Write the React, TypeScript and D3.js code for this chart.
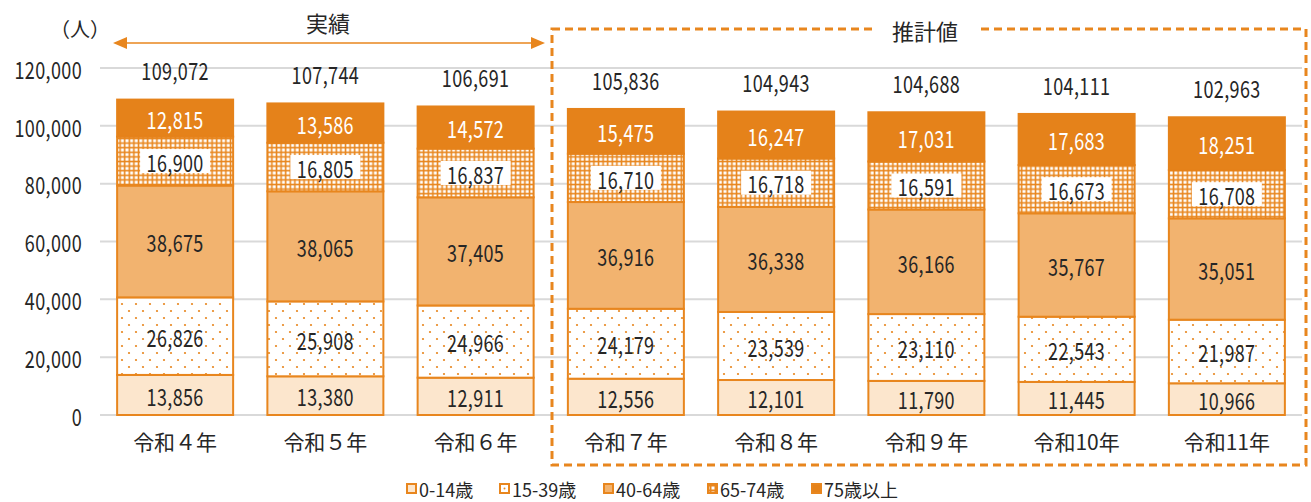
import React from "react";
import * as d3 from "d3";

const categories = ["令和４年", "令和５年", "令和６年", "令和７年", "令和８年", "令和９年", "令和10年", "令和11年"];
const age0to14 = [13856, 13380, 12911, 12556, 12101, 11790, 11445, 10966];
const age15to39 = [26826, 25908, 24966, 24179, 23539, 23110, 22543, 21987];
const age40to64 = [38675, 38065, 37405, 36916, 36338, 36166, 35767, 35051];
const age65to74 = [16900, 16805, 16837, 16710, 16718, 16591, 16673, 16708];
const age75plus = [12815, 13586, 14572, 15475, 16247, 17031, 17683, 18251];
const totals = [109072, 107744, 106691, 105836, 104943, 104688, 104111, 102963];
const yTicks = [0, 20000, 40000, 60000, 80000, 100000, 120000];
const seriesNames = ["0-14歳", "15-39歳", "40-64歳", "65-74歳", "75歳以上"];
const actualLabel = "実績";
const estimateLabel = "推計値";
const unitLabel = "（人）";

const W = 1311;
const H = 502;
const ORANGE = "#E8861E";
const DARK = "#E5821A";
const MID = "#F2B36F";
const LIGHT = "#FCE6CD";
const TXT = "#262626";
const FONT = "'Noto Sans CJK JP', 'Noto Sans', sans-serif";

type Seg = { key: number; values: number[]; fill: string; labelColor: string; labelBg?: boolean };

const series: Seg[] = [
  { key: 0, values: age0to14, fill: LIGHT, labelColor: TXT },
  { key: 1, values: age15to39, fill: "url(#dots)", labelColor: TXT },
  { key: 2, values: age40to64, fill: MID, labelColor: TXT },
  { key: 3, values: age65to74, fill: "url(#grid)", labelColor: TXT, labelBg: true },
  { key: 4, values: age75plus, fill: DARK, labelColor: "#ffffff" },
];

const fmt = d3.format(",");

function Num(props: { x: number; y: number; text: string; anchor?: string; size?: number; fill?: string; sx?: number }) {
  const { x, y, text, anchor = "middle", size = 24, fill = TXT, sx = 0.75 } = props;
  return (
    <g transform={`translate(${x},${y}) scale(${sx},1)`}>
      <text x={0} y={0} textAnchor={anchor as any} dominantBaseline="central" fontSize={size} fill={fill} fontFamily={FONT} letterSpacing={0.5}>
        {text}
      </text>
    </g>
  );
}

export default function App() {
  const x = d3.scaleBand<string>().domain(categories).range([100, 1302]).paddingInner(0.228).paddingOuter(0.114);
  const y = d3.scaleLinear().domain([0, 120000]).range([415, 68]);
  const bw = x.bandwidth();

  const bars = categories.map((c, i) => {
    let acc = 0;
    const segs = series.map((s) => {
      const v = s.values[i];
      const y0 = y(acc);
      const y1 = y(acc + v);
      acc += v;
      return { s, v, y0, y1 };
    });
    return { c, i, segs };
  });

  const legendX = [407, 500, 604, 708, 812];

  return (
    <svg width={W} height={H} style={{ position: "absolute", left: 0, top: 0, background: "#fff" }} fontFamily={FONT}>
      <defs>
        <pattern id="dots" patternUnits="userSpaceOnUse" width={14} height={14}>
          <rect width={14} height={14} fill="#fff" />
          <circle cx={3} cy={3} r={1.1} fill={ORANGE} />
          <circle cx={10} cy={10} r={1.1} fill={ORANGE} />
        </pattern>
        <pattern id="grid" patternUnits="userSpaceOnUse" width={4.6} height={4.6}>
          <rect width={4.6} height={4.6} fill={ORANGE} />
          <rect x={1.3} y={1.3} width={3.0} height={3.0} fill="#fff" />
        </pattern>
        <pattern id="gridLegend" patternUnits="userSpaceOnUse" width={5} height={5}>
          <rect width={5} height={5} fill={ORANGE} />
          <rect x={1.5} y={1.5} width={3} height={3} fill="#fff" />
        </pattern>
      </defs>
      <rect width={W} height={H} fill="#fff" />

      {yTicks.map((t) => (
        <line key={t} x1={100} x2={1302} y1={y(t)} y2={y(t)} stroke="#D9D9D9" strokeWidth={2} />
      ))}
      {yTicks.map((t) => (
        <Num key={"l" + t} x={82} y={y(t)} text={fmt(t)} anchor="end" />
      ))}
      <text x={80} y={28} textAnchor="middle" dominantBaseline="central" fontSize={20} fill={TXT}>
        {unitLabel}
      </text>

      {bars.map((b) => {
        const bx = x(b.c)!;
        return (
          <g key={b.c}>
            {b.segs.map(({ s, y0, y1 }) => (
              <rect
                key={s.key}
                x={bx}
                y={y1}
                width={bw}
                height={y0 - y1}
                fill={s.fill}
                stroke={s.key === 4 ? DARK : ORANGE}
                strokeWidth={2}
              />
            ))}
            {b.segs.map(({ s, v, y0, y1 }) => {
              const cy = (y0 + y1) / 2;
              const cx = bx + bw / 2;
              return (
                <g key={"t" + s.key}>
                  {s.labelBg && <rect x={cx - 35} y={cy - 12} width={70} height={24} fill="#fff" />}
                  <Num x={cx} y={cy} text={fmt(v)} fill={s.labelColor} />
                </g>
              );
            })}
            <Num x={bx + bw / 2} y={y(totals[b.i]) - 30} text={fmt(totals[b.i])} />
            <text x={bx + bw / 2} y={441} textAnchor="middle" dominantBaseline="central" fontSize={21} fill={TXT}>
              {b.c}
            </text>
          </g>
        );
      })}

      <line x1={124} x2={534} y1={43} y2={43} stroke={ORANGE} strokeWidth={1.5} />
      <path d="M113,43 L127,37 L127,49 Z" fill={ORANGE} />
      <path d="M545,43 L531,37 L531,49 Z" fill={ORANGE} />
      <text x={328} y={22} textAnchor="middle" dominantBaseline="central" fontSize={22} fill={TXT}>
        {actualLabel}
      </text>

      <rect x={552} y={29} width={754} height={436} fill="none" stroke={ORANGE} strokeWidth={3} strokeDasharray="8,5" />
      <rect x={872} y={15} width={106} height={28} fill="#fff" />
      <text x={925} y={30} textAnchor="middle" dominantBaseline="central" fontSize={22} fill={TXT}>
        {estimateLabel}
      </text>

      {seriesNames.map((n, i) => {
        const lx = legendX[i];
        const fills = [LIGHT, "#fff", MID, "url(#gridLegend)", DARK];
        return (
          <g key={n}>
            <rect x={lx} y={484} width={9} height={9} fill={fills[i]} stroke={ORANGE} strokeWidth={2} />
            {i === 1 && <circle cx={lx + 4.5} cy={488.5} r={1} fill={ORANGE} />}
            <text x={lx + 12} y={489} dominantBaseline="central" fontSize={18} fill={TXT}>
              {n}
            </text>
          </g>
        );
      })}
    </svg>
  );
}
